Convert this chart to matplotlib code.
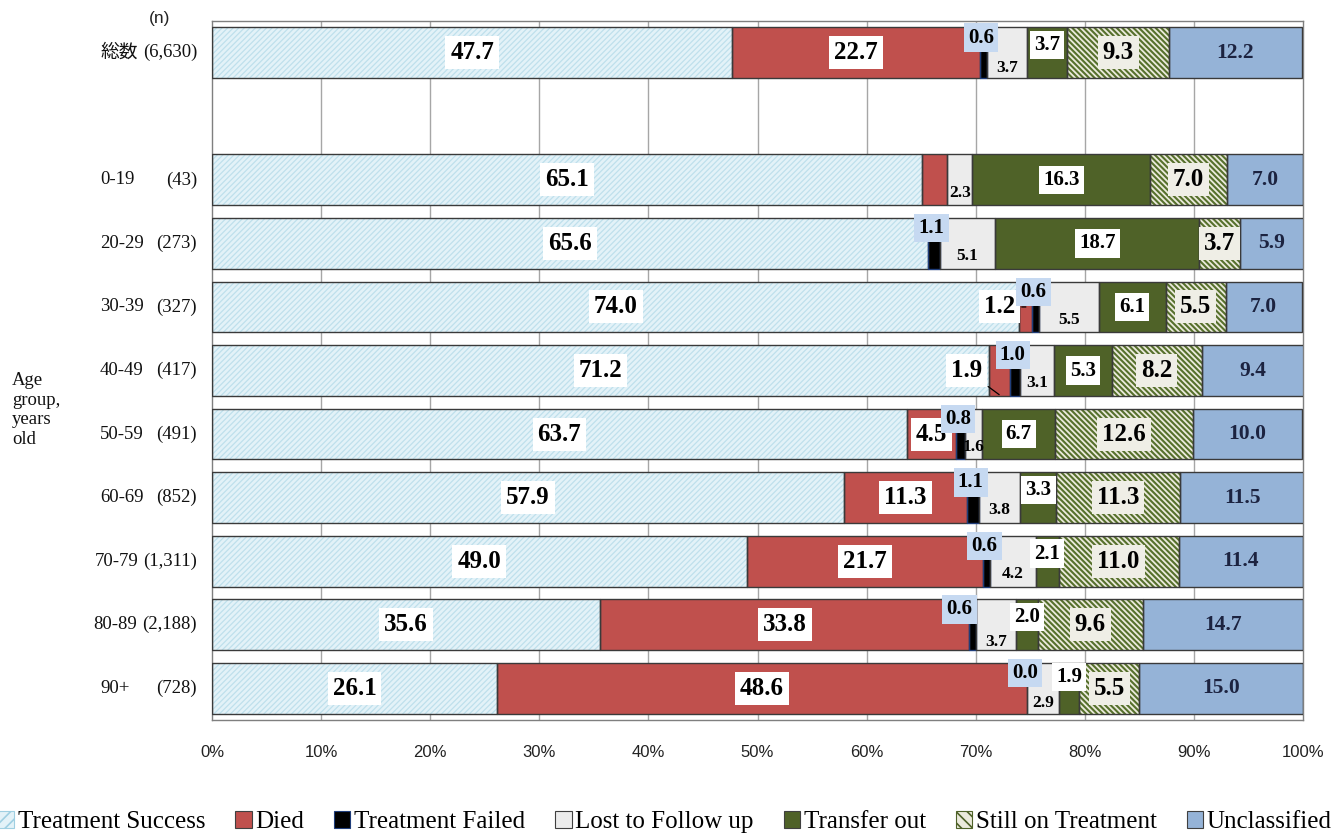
import matplotlib
matplotlib.use('Agg')
import matplotlib.pyplot as plt
from matplotlib.patches import Patch

# ---------------- data ----------------
groups = ['総数', '0-19', '20-29', '30-39', '40-49', '50-59', '60-69', '70-79', '80-89', '90+']
n_labels = ['(6,630)', '(43)', '(273)', '(327)', '(417)', '(491)', '(852)', '(1,311)', '(2,188)', '(728)']
success = [47.7, 65.1, 65.6, 74.0, 71.2, 63.7, 57.9, 49.0, 35.6, 26.1]
died = [22.7, 2.3, 0.0, 1.2, 1.9, 4.5, 11.3, 21.7, 33.8, 48.6]
failed = [0.6, 0.0, 1.1, 0.6, 1.0, 0.8, 1.1, 0.6, 0.6, 0.0]
lost = [3.7, 2.3, 5.1, 5.5, 3.1, 1.6, 3.8, 4.2, 3.7, 2.9]
transfer = [3.7, 16.3, 18.7, 6.1, 5.3, 6.7, 3.3, 2.1, 2.0, 1.9]
still = [9.3, 7.0, 3.7, 5.5, 8.2, 12.6, 11.3, 11.0, 9.6, 5.5]
unclassified = [12.2, 7.0, 5.9, 7.0, 9.4, 10.0, 11.5, 11.4, 14.7, 15.0]
series_names = ['Treatment Success', 'Died', 'Treatment Failed', 'Lost to Follow up',
                'Transfer out', 'Still on Treatment', 'Unclassified']
xtick_vals = [0, 10, 20, 30, 40, 50, 60, 70, 80, 90, 100]
xtick_labels = ['0%', '10%', '20%', '30%', '40%', '50%', '60%', '70%', '80%', '90%', '100%']
n_header = '(n)'
axis_title = 'Age\ngroup,\nyears\nold'

series = [success, died, failed, lost, transfer, still, unclassified]

# ---------------- style ----------------
plt.rcParams['hatch.linewidth'] = 1.2
SERIF = ['Liberation Serif', 'Noto Sans CJK JP', 'DejaVu Serif']
faces = ['#e3f2f8', '#c0504d', '#000000', '#ececec', '#4f6228', '#ebeadc', '#95b3d7']
hatches = ['//////', None, None, None, None, '\\\\\\\\\\\\', None]
hatch_cols = ['#bfe0ec', None, None, None, None, '#56702c', None]
hatch_lws = [0.9, None, None, None, None, 1.5, None]
edge_col = '#3a3a3a'

positions = [0, 2, 3, 4, 5, 6, 7, 8, 9, 10]

W, H = 1343, 838
fig = plt.figure(figsize=(W / 100, H / 100), dpi=100)
ax = fig.add_axes([212 / W, 1 - 720 / H, (1303 - 212) / W, (720 - 21) / H])
ax.set_xlim(0, 100)
ax.set_ylim(10.5, -0.5)

for x in xtick_vals[1:-1]:
    ax.axvline(x, color='#a6a6a6', lw=1.0, zorder=0)

bar_h = 0.8
lefts = [0.0] * len(groups)
seg_left = []
for k, vals in enumerate(series):
    seg_left.append(list(lefts))
    lw = [1.0 if v > 0 else 0 for v in vals]
    if hatches[k]:
        bars = ax.barh(positions, vals, left=lefts, height=bar_h, color=faces[k],
                       hatch=hatches[k], edgecolor=hatch_cols[k], linewidth=0, zorder=2)
        for b in bars:
            if hasattr(b, 'set_hatch_linewidth'):
                b.set_hatch_linewidth(hatch_lws[k])
    else:
        ax.barh(positions, vals, left=lefts, height=bar_h, color=faces[k],
                linewidth=0, zorder=2)
    ax.barh(positions, vals, left=lefts, height=bar_h, fill=False,
            edgecolor=edge_col if k != 2 else '#1f3d7a', linewidth=lw, zorder=3)
    lefts = [l + v for l, v in zip(lefts, vals)]

# ---------------- value labels ----------------
hidden = {(1, 1), (1, 2), (2, 1)}
big = 18
mid = 15
small = 12.5


def put(x, y, s, size, box=None, color='black'):
    kw = dict(ha='center', va='center', fontsize=size, fontweight='bold',
              family=SERIF, color=color, zorder=6)
    if box:
        kw['bbox'] = dict(boxstyle='square,pad=0.2', fc=box, ec='none')
    return ax.text(x, y, s, **kw)


for i, p in enumerate(positions):
    for k, vals in enumerate(series):
        v = vals[i]
        if (i, k) in hidden:
            continue
        l = seg_left[k][i]
        cx = l + v / 2
        s = f'{v:.1f}'
        if k == 0:
            put(cx, p, s, big, 'white')
        elif k == 1:
            if v < 2:
                dx = {3: -2.4, 4: -3.0}.get(i, -2.5)
                dy = {4: 0.38}.get(i, 0.0)
                ax.annotate(s, xy=(cx, p + dy), xytext=(cx + dx, p), ha='center', va='center',
                            fontsize=big, fontweight='bold', family=SERIF, zorder=6,
                            bbox=dict(boxstyle='square,pad=0.2', fc='white', ec='none'),
                            arrowprops=dict(arrowstyle='-', color='black', lw=0.9,
                                            shrinkA=1, shrinkB=0))
            else:
                put(cx, p, s, big, 'white')
        elif k == 2:
            dx = {8: -1.2}.get(i, -0.2)
            put(cx + dx, p - 0.24, s, mid, '#c6d9f1')
        elif k == 3:
            dy = {8: 0.27, 9: 0.24, 0: 0.24}.get(i, 0.2)
            put(cx, p + dy, s, small)
        elif k == 4:
            dy = -0.12 if v < 4 else 0.0
            if i == 9:
                dy = -0.18
            put(cx, p + dy, s, mid, 'white')
        elif k == 5:
            put(cx, p, s, big, '#efeee6')
        else:
            put(cx, p, s, 15.5, color='#1c2340')

# ---------------- axes styling ----------------
ax.set_yticks([])
ax.set_xticks(xtick_vals)
ax.set_xticklabels(xtick_labels, family=['Liberation Sans'], fontsize=12, color='#222222')
ax.tick_params(axis='x', length=0, pad=18)
for sp in ax.spines.values():
    sp.set_color('#7f7f7f')
    sp.set_linewidth(1.0)

# category labels
fig.canvas.draw()
renderer = fig.canvas.get_renderer()
for i, p in enumerate(positions):
    ypix = H - (21 + (p + 0.5) * (720 - 21) / 11.0)
    tn = fig.text(197 / W, ypix / H, n_labels[i], ha='right', va='center',
                  family=SERIF, fontsize=13.5, color='#111111')
    bbn = tn.get_window_extent(renderer)
    ta = fig.text(100 / W, ypix / H, groups[i], ha='left', va='center',
                  family=SERIF, fontsize=13.5, color='#111111')
    bba = ta.get_window_extent(renderer)
    if bba.x1 > bbn.x0 - 7:
        ta.set_ha('right')
        ta.set_x((bbn.x0 - 5) / W)

fig.text(160 / W, 1 - 18 / H, n_header, ha='center', va='center',
         family=['Liberation Sans'], fontsize=12.5, color='#222222')
fig.text(12 / W, 1 - 410 / H, axis_title, ha='left', va='center',
         family=SERIF, fontsize=13.5, color='#111111', linespacing=1.2)

# legend
handles = []
for k in range(7):
    if hatches[k]:
        handles.append(Patch(facecolor=faces[k], hatch='///' if k == 0 else '\\\\\\',
                             edgecolor='#9fcfe2' if k == 0 else '#4f6228', linewidth=0.8))
    else:
        handles.append(Patch(facecolor=faces[k], edgecolor='#404040' if k != 2 else '#1f3d7a',
                             linewidth=0.8))
fig.legend(handles, series_names, loc='center', bbox_to_anchor=(0.495, 1 - 822 / H), ncol=7,
           frameon=False, prop={'family': SERIF, 'size': 18}, handlelength=0.65,
           handleheight=0.65, handletextpad=0.15, columnspacing=1.2, borderaxespad=0)

fig.savefig('out.png', dpi=100)
